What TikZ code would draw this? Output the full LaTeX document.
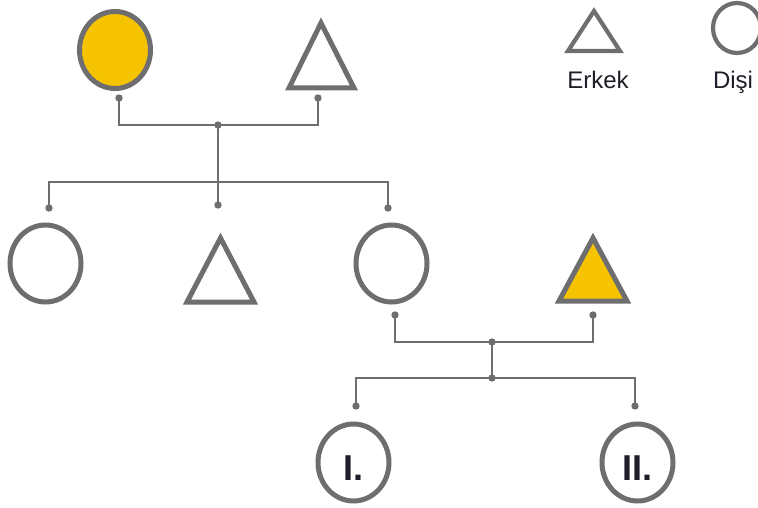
\documentclass[tikz,border=0pt]{standalone}
\usepackage{fontspec}
\setmainfont{Liberation Sans}
\usetikzlibrary{shapes.geometric}
\definecolor{pgray}{HTML}{6E6E70}
\definecolor{pyellow}{HTML}{F6C300}
\definecolor{ptext}{HTML}{1E1E28}
\tikzset{
  fem/.style={ellipse, draw=pgray, line width=5pt, minimum width=71pt, minimum height=77pt, inner sep=0pt},
  femleg/.style={ellipse, draw=pgray, line width=4.2pt, minimum width=48pt, minimum height=50pt, inner sep=0pt},
  male/.style={draw=pgray, line width=5pt, line join=miter},
  conn/.style={draw=pgray, line width=2.2pt},
  pdot/.style={fill=pgray},
  roman/.style={font=\fontsize{36}{36}\selectfont\bfseries, text=ptext, anchor=base},
  legtxt/.style={font=\fontsize{24}{24}\selectfont, text=ptext, anchor=base}
}
\begin{document}
\begin{tikzpicture}[x=1pt,y=-1pt]
\useasboundingbox (0,0) rectangle (758,508);
% generation 1
\node[fem, fill=pyellow] (mom) at (115,50) {};
\draw[male, fill=white] (321,23) -- (354,88) -- (289,88) -- cycle;
\coordinate (dad) at (321,60);
% generation 2
\node[fem] (c1) at (45.5,263.5) {};
\draw[male] (220.5,238) -- (254,302) -- (187,302) -- cycle;
\coordinate (c2) at (220.5,275);
\node[fem] (c3) at (391.5,263.5) {};
\draw[male, fill=pyellow] (593,238) -- (627,301) -- (559,301) -- cycle;
\coordinate (hus) at (593,275);
% generation 3
\node[fem] (k1) at (353.5,462.5) {};
\node[fem] (k2) at (637.5,462.5) {};
\node[roman] at (353,480) {I.};
\node[roman] at (637,480) {II.};
% connector points
\coordinate (dm) at (119,98);
\coordinate (dd) at (318,98);
\coordinate (j1) at (218,125);
\coordinate (h1) at (218,182);
\coordinate (e1) at (49,208);
\coordinate (e2) at (218,205);
\coordinate (e3) at (388,208);
\coordinate (dw) at (395,315);
\coordinate (dh) at (593,315);
\coordinate (j2) at (492,342);
\coordinate (j3) at (492,378);
\coordinate (f1) at (356,406);
\coordinate (f2) at (635,406);
% connectors
\draw[conn] (dm) |- (j1) -| (dd);
\draw[conn] (j1) -- (e2);
\draw[conn] (e1) |- (h1) -| (e3);
\draw[conn] (dw) |- (j2) -| (dh);
\draw[conn] (j2) -- (j3);
\draw[conn] (f1) |- (j3) -| (f2);
\foreach \p in {dm,dd,j1,e1,e2,e3,dw,dh,j2,j3,f1,f2}
  \fill[pdot] (\p) circle (3.7pt);
% legend
\draw[male, line width=4.2pt] (594,11) -- (620,51) -- (568,51) -- cycle;
\node[legtxt] at (598,89) {Erkek};
\node[femleg] (leg) at (737,28) {};
\node[legtxt] at (733,89) {Dişi};
\end{tikzpicture}
\end{document}
